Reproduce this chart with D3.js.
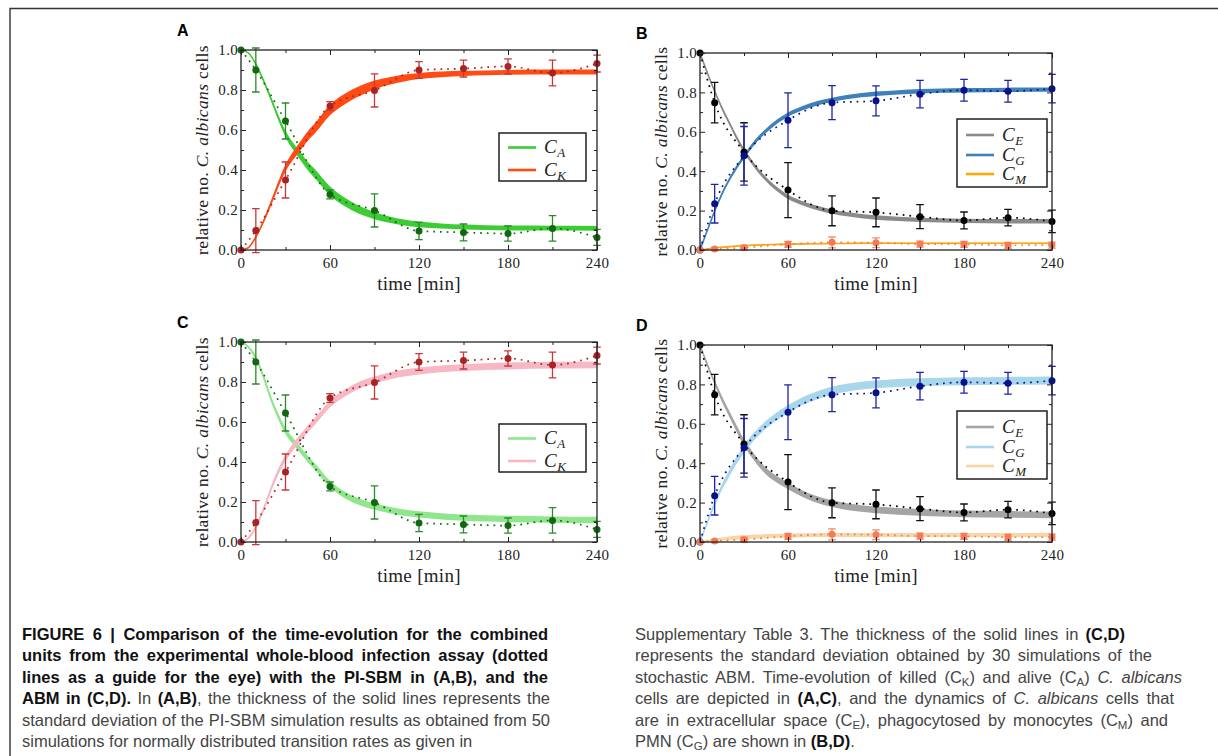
<!DOCTYPE html>
<html>
<head>
<meta charset="utf-8">
<script src="https://cdn.jsdelivr.net/npm/d3@7"></script>
<style>
  body { margin: 0; background: #fff; }
  #fig { position: relative; width: 1218px; height: 756px; overflow: hidden; }
  #fig svg { position: absolute; left: 0; top: 0; }
  .cap { position: absolute; font-family: "Liberation Sans", Arial, sans-serif; font-size: 16.5px;
         color: #444; white-space: nowrap; height: 21px; line-height: 21px; }
  .cap.j { text-align: justify; text-align-last: justify; }
  .cap b { color: #111; }
  .cap sub { font-size: 11.5px; vertical-align: -3px; line-height: 0; }
</style>
</head>
<body>
<div id="fig"></div>
<script>
// experimental whole-blood assay (dotted lines + error bars)
const expTimes = [0, 10, 30, 60, 90, 120, 150, 180, 210, 240];
const expAlive = [1.0, 0.90, 0.645, 0.278, 0.198, 0.095, 0.088, 0.082, 0.108, 0.063];
const expAliveErr = [0, 0.11, 0.09, 0.022, 0.083, 0.043, 0.042, 0.038, 0.064, 0.04];
const expKilled = [0, 0.097, 0.35, 0.72, 0.798, 0.90, 0.907, 0.918, 0.885, 0.932];
const expKilledErr = [0, 0.11, 0.09, 0.022, 0.083, 0.042, 0.042, 0.038, 0.064, 0.042];
const expExtra = [1.0, 0.748, 0.498, 0.304, 0.199, 0.191, 0.169, 0.150, 0.164, 0.145];
const expExtraErr = [0, 0.103, 0.148, 0.14, 0.076, 0.073, 0.061, 0.043, 0.042, 0.057];
const expPmn = [0, 0.235, 0.478, 0.659, 0.748, 0.757, 0.791, 0.811, 0.806, 0.819];
const expPmnErr = [0, 0.098, 0.149, 0.139, 0.086, 0.076, 0.07, 0.055, 0.055, 0.072];
const expMono = [0, 0.005, 0.012, 0.029, 0.039, 0.037, 0.03, 0.029, 0.024, 0.025];
const expMonoErr = [0, 0.008, 0.012, 0.015, 0.028, 0.025, 0.015, 0.015, 0.015, 0.015];

// simulation curves (mean and standard deviation)
const simTimes = [0, 5, 10, 15, 20, 25, 30, 35, 40, 45, 50, 60, 70, 80, 90, 100, 110, 120, 135, 150, 165, 180, 210, 240];

const sbmAlive = [1.0, 0.985, 0.93, 0.85, 0.76, 0.665, 0.58, 0.52, 0.47, 0.42, 0.38, 0.295, 0.24, 0.20, 0.172, 0.152, 0.138, 0.128, 0.12, 0.115, 0.112, 0.11, 0.109, 0.108];
const sbmAliveSd = [0, 0.002, 0.004, 0.007, 0.01, 0.013, 0.016, 0.018, 0.02, 0.021, 0.022, 0.022, 0.021, 0.02, 0.018, 0.016, 0.015, 0.014, 0.013, 0.012, 0.012, 0.012, 0.012, 0.012];
const sbmKilled = [0, 0.012, 0.065, 0.14, 0.23, 0.325, 0.41, 0.47, 0.52, 0.57, 0.61, 0.70, 0.755, 0.795, 0.825, 0.845, 0.86, 0.87, 0.878, 0.883, 0.886, 0.888, 0.89, 0.89];
const sbmKilledSd = [0, 0.002, 0.005, 0.008, 0.012, 0.015, 0.018, 0.02, 0.022, 0.024, 0.025, 0.026, 0.026, 0.025, 0.022, 0.019, 0.017, 0.015, 0.014, 0.013, 0.012, 0.012, 0.012, 0.012];
const sbmExtra = [1.0, 0.90, 0.806, 0.72, 0.645, 0.57, 0.505, 0.45, 0.40, 0.36, 0.324, 0.27, 0.237, 0.213, 0.195, 0.182, 0.172, 0.165, 0.158, 0.153, 0.15, 0.148, 0.146, 0.146];
const sbmExtraSd = [0, 0.004, 0.006, 0.008, 0.009, 0.01, 0.01, 0.011, 0.011, 0.011, 0.011, 0.011, 0.011, 0.011, 0.011, 0.011, 0.011, 0.011, 0.011, 0.011, 0.011, 0.011, 0.011, 0.011];
const sbmPmn = [0, 0.10, 0.198, 0.285, 0.358, 0.42, 0.473, 0.525, 0.569, 0.605, 0.637, 0.687, 0.72, 0.745, 0.762, 0.776, 0.786, 0.793, 0.80, 0.806, 0.809, 0.811, 0.813, 0.814];
const sbmPmnSd = [0, 0.004, 0.006, 0.008, 0.009, 0.01, 0.01, 0.011, 0.011, 0.011, 0.011, 0.011, 0.011, 0.011, 0.011, 0.011, 0.011, 0.011, 0.011, 0.011, 0.011, 0.011, 0.011, 0.011];
const sbmMono = [0, 0.005, 0.01, 0.014, 0.017, 0.02, 0.022, 0.024, 0.025, 0.027, 0.028, 0.03, 0.031, 0.032, 0.033, 0.033, 0.034, 0.034, 0.034, 0.034, 0.034, 0.034, 0.034, 0.034];
const sbmMonoSd = [0, 0.001, 0.002, 0.002, 0.003, 0.003, 0.003, 0.003, 0.003, 0.003, 0.003, 0.003, 0.003, 0.003, 0.003, 0.003, 0.003, 0.003, 0.003, 0.003, 0.003, 0.003, 0.003, 0.003];

const abmAlive = [1.0, 0.975, 0.92, 0.83, 0.72, 0.63, 0.555, 0.505, 0.46, 0.415, 0.375, 0.29, 0.235, 0.20, 0.178, 0.16, 0.147, 0.138, 0.128, 0.122, 0.118, 0.115, 0.112, 0.11];
const abmAliveSd = [0, 0.006, 0.01, 0.012, 0.014, 0.015, 0.016, 0.016, 0.016, 0.016, 0.016, 0.016, 0.016, 0.016, 0.016, 0.016, 0.016, 0.016, 0.016, 0.016, 0.016, 0.016, 0.016, 0.016];
const abmKilled = [0, 0.02, 0.075, 0.16, 0.26, 0.35, 0.42, 0.475, 0.52, 0.565, 0.605, 0.69, 0.745, 0.785, 0.81, 0.83, 0.845, 0.855, 0.866, 0.872, 0.877, 0.88, 0.884, 0.886];
const abmKilledSd = [0, 0.006, 0.01, 0.012, 0.014, 0.015, 0.016, 0.017, 0.017, 0.017, 0.017, 0.017, 0.017, 0.017, 0.017, 0.017, 0.017, 0.017, 0.017, 0.017, 0.017, 0.017, 0.017, 0.017];
const abmExtra = [1.0, 0.90, 0.81, 0.725, 0.65, 0.575, 0.505, 0.45, 0.40, 0.36, 0.33, 0.285, 0.245, 0.215, 0.195, 0.18, 0.17, 0.163, 0.155, 0.15, 0.146, 0.143, 0.14, 0.138];
const abmExtraSd = [0, 0.008, 0.012, 0.014, 0.015, 0.016, 0.016, 0.017, 0.017, 0.017, 0.017, 0.017, 0.017, 0.017, 0.017, 0.017, 0.017, 0.017, 0.017, 0.017, 0.017, 0.017, 0.017, 0.017];
const abmPmn = [0, 0.10, 0.195, 0.28, 0.35, 0.415, 0.47, 0.52, 0.56, 0.595, 0.625, 0.675, 0.715, 0.745, 0.768, 0.783, 0.794, 0.80, 0.807, 0.811, 0.814, 0.816, 0.818, 0.82];
const abmPmnSd = [0, 0.008, 0.012, 0.015, 0.017, 0.018, 0.019, 0.02, 0.02, 0.02, 0.02, 0.02, 0.02, 0.02, 0.02, 0.02, 0.02, 0.02, 0.02, 0.02, 0.02, 0.02, 0.02, 0.02];
const abmMono = [0, 0.006, 0.011, 0.015, 0.019, 0.022, 0.025, 0.027, 0.028, 0.03, 0.031, 0.033, 0.034, 0.035, 0.036, 0.036, 0.036, 0.036, 0.036, 0.036, 0.036, 0.036, 0.036, 0.036];
const abmMonoSd = [0, 0.004, 0.006, 0.008, 0.009, 0.01, 0.01, 0.01, 0.01, 0.01, 0.01, 0.01, 0.01, 0.01, 0.01, 0.01, 0.01, 0.01, 0.01, 0.01, 0.01, 0.01, 0.01, 0.01];

const xTicks = [0, 30, 60, 90, 120, 150, 180, 210, 240];
const yTicks = [0, 0.1, 0.2, 0.3, 0.4, 0.5, 0.6, 0.7, 0.8, 0.9, 1.0];

const serif = '"Liberation Serif", "DejaVu Serif", serif';

const panels = [
  { name: "A", x0: 241, x1: 597, y0: 50, y1: 250, legend: { x: 499, y: 133, w: 87 },
    bands: [
      { key: "A", mean: sbmAlive, sd: sbmAliveSd, color: "#3dcc35" },
      { key: "K", mean: sbmKilled, sd: sbmKilledSd, color: "#ff4b14" }],
    exp: [
      { v: expAlive, e: expAliveErr, dot: "#10690f", bar: "#2b8a2b" },
      { v: expKilled, e: expKilledErr, dot: "#a82424", bar: "#c83838" }] },
  { name: "B", x0: 700, x1: 1052, y0: 53, y1: 250, legend: { x: 957, y: 119, w: 90 },
    bands: [
      { key: "E", mean: sbmExtra, sd: sbmExtraSd, color: "#8a8a8a" },
      { key: "G", mean: sbmPmn, sd: sbmPmnSd, color: "#3f80b8" },
      { key: "M", mean: sbmMono, sd: sbmMonoSd, color: "#ffa60a" }],
    exp: [
      { v: expExtra, e: expExtraErr, dot: "#000000", bar: "#111111" },
      { v: expPmn, e: expPmnErr, dot: "#08108a", bar: "#1a22a8" },
      { v: expMono, e: expMonoErr, dot: "#f57a55", bar: "#f08a68" }] },
  { name: "C", x0: 241, x1: 597, y0: 342, y1: 542, legend: { x: 499, y: 424, w: 87 },
    bands: [
      { key: "A", mean: abmAlive, sd: abmAliveSd, color: "#90e68c" },
      { key: "K", mean: abmKilled, sd: abmKilledSd, color: "#f6b8c4" }],
    exp: [
      { v: expAlive, e: expAliveErr, dot: "#10690f", bar: "#2b8a2b" },
      { v: expKilled, e: expKilledErr, dot: "#a82424", bar: "#c83838" }] },
  { name: "D", x0: 700, x1: 1052, y0: 345, y1: 542, legend: { x: 957, y: 411, w: 90 },
    bands: [
      { key: "E", mean: abmExtra, sd: abmExtraSd, color: "#a5a5a5" },
      { key: "G", mean: abmPmn, sd: abmPmnSd, color: "#a8d6ea" },
      { key: "M", mean: abmMono, sd: abmMonoSd, color: "#f8d5a4" }],
    exp: [
      { v: expExtra, e: expExtraErr, dot: "#000000", bar: "#111111" },
      { v: expPmn, e: expPmnErr, dot: "#08108a", bar: "#1a22a8" },
      { v: expMono, e: expMonoErr, dot: "#f57a55", bar: "#f08a68" }] }
];

const fig = d3.select("#fig");
const svg = fig.append("svg").attr("width", 1218).attr("height", 756);

// outer frame of the figure box
svg.append("path")
  .attr("d", "M10,756 V8.5 H1218")
  .attr("fill", "none")
  .attr("stroke", "#333")
  .attr("stroke-width", 1.4);

panels.forEach(p => drawPanel(svg.append("g"), p));

function drawPanel(g, p) {
  const x = d3.scaleLinear().domain([0, 240]).range([p.x0, p.x1]);
  const y = d3.scaleLinear().domain([0, 1]).range([p.y1, p.y0]);
  const idx = d3.range(simTimes.length);

  g.append("text")
    .attr("x", p.x0 - 64)
    .attr("y", p.y0 - 14)
    .attr("font-family", '"Liberation Sans", Arial, sans-serif')
    .attr("font-weight", "bold")
    .attr("font-size", 16)
    .text(p.name);

  // simulation bands
  p.bands.forEach(b => {
    const area = d3.area()
      .x(i => x(simTimes[i]))
      .y0(i => y(b.mean[i] - b.sd[i]))
      .y1(i => y(b.mean[i] + b.sd[i]))
      .curve(d3.curveMonotoneX);
    const line = d3.line()
      .x(i => x(simTimes[i]))
      .y(i => y(b.mean[i]))
      .curve(d3.curveMonotoneX);
    g.append("path").attr("d", area(idx)).attr("fill", b.color);
    g.append("path").attr("d", line(idx)).attr("fill", "none")
      .attr("stroke", b.color).attr("stroke-width", 1.6);
  });

  // experimental data
  const eIdx = d3.range(expTimes.length);
  p.exp.forEach(s => {
    const line = d3.line().x(i => x(expTimes[i])).y(i => y(s.v[i])).curve(d3.curveMonotoneX);
    g.append("path").attr("d", line(eIdx))
      .attr("fill", "none")
      .attr("stroke", s.dot)
      .attr("stroke-width", 1.7)
      .attr("stroke-dasharray", "1.7,5");
  });
  p.exp.forEach(s => {
    const bars = g.append("g").attr("stroke", s.bar).attr("stroke-width", 1.3).attr("fill", "none");
    eIdx.filter(i => s.e[i] > 0).forEach(i => {
      const cx = x(expTimes[i]);
      const top = y(s.v[i] + s.e[i]), bot = y(s.v[i] - s.e[i]);
      bars.append("path").attr("d", `M${cx},${top}V${bot}M${cx - 3.8},${top}H${cx + 3.8}M${cx - 3.8},${bot}H${cx + 3.8}`);
    });
  });
  p.exp.forEach(s => {
    g.append("g").selectAll("circle")
      .data(eIdx)
      .join("circle")
      .attr("cx", i => x(expTimes[i]))
      .attr("cy", i => y(s.v[i]))
      .attr("r", 3.5)
      .attr("fill", s.dot);
  });

  drawAxes(g, x, y, p);
  drawLegend(g, p);

  // axis titles
  const yl = g.append("text")
    .attr("transform", `translate(${p.x0 - 33},${(p.y0 + p.y1) / 2}) rotate(-90)`)
    .attr("text-anchor", "middle")
    .attr("font-family", serif)
    .attr("font-size", 17.5)
    .attr("letter-spacing", 0.35)
    .attr("fill", "#222");
  yl.append("tspan").text("relative no. ");
  yl.append("tspan").attr("font-style", "italic").text("C. albicans");
  yl.append("tspan").text(" cells");

  g.append("text")
    .attr("x", (p.x0 + p.x1) / 2)
    .attr("y", p.y1 + 40)
    .attr("text-anchor", "middle")
    .attr("font-family", serif)
    .attr("font-size", 19)
    .attr("letter-spacing", 0.3)
    .attr("fill", "#222")
    .text("time [min]");
}

function drawAxes(g, x, y, p) {
  const fmtX = d => d % 60 === 0 ? d : "";
  const fmtY = d => Math.round(d * 10) % 2 === 0 ? d.toFixed(1) : "";
  const minorX = d => d % 60 !== 0;
  const minorY = d => Math.round(d * 10) % 2 !== 0;

  const axes = [
    { ax: d3.axisBottom(x).tickValues(xTicks).tickFormat(fmtX).tickPadding(7), t: `translate(0,${p.y1})`, minor: minorX, attr: "y2" },
    { ax: d3.axisTop(x).tickValues(xTicks).tickFormat(""), t: `translate(0,${p.y0})`, minor: minorX, attr: "y2" },
    { ax: d3.axisLeft(y).tickValues(yTicks).tickFormat(fmtY).tickPadding(3), t: `translate(${p.x0},0)`, minor: minorY, attr: "x2" },
    { ax: d3.axisRight(y).tickValues(yTicks).tickFormat(""), t: `translate(${p.x1},0)`, minor: minorY, attr: "x2" }
  ];
  axes.forEach(a => {
    const ag = g.append("g")
      .attr("transform", a.t)
      .call(a.ax.tickSizeInner(-5).tickSizeOuter(0));
    ag.select(".domain").remove();
    ag.attr("font-family", serif).attr("font-size", 15);
    ag.selectAll(".tick text").attr("fill", "#222").attr("letter-spacing", 0.3);
    ag.selectAll(".tick line")
      .attr("stroke", "#222")
      .attr("stroke-width", 1)
      .attr(a.attr, function(d) { return +this.getAttribute(a.attr) * (a.minor(d) ? 0.6 : 1); });
  });

  g.append("rect")
    .attr("x", p.x0).attr("y", p.y0)
    .attr("width", p.x1 - p.x0).attr("height", p.y1 - p.y0)
    .attr("fill", "none")
    .attr("stroke", "#222")
    .attr("stroke-width", 1.3);
}

function drawLegend(g, p) {
  const n = p.bands.length;
  const h = n === 2 ? 48 : 68;
  const rows = n === 2 ? [14.5, 37] : [16, 36, 55];
  const L = p.legend;
  const lg = g.append("g").attr("transform", `translate(${L.x},${L.y})`);
  lg.append("rect")
    .attr("width", L.w).attr("height", h)
    .attr("fill", "#fff").attr("stroke", "#111").attr("stroke-width", 1.4);
  p.bands.forEach((b, i) => {
    lg.append("line")
      .attr("x1", 9).attr("x2", 37)
      .attr("y1", rows[i]).attr("y2", rows[i])
      .attr("stroke", b.color).attr("stroke-width", 2.6);
    const t = lg.append("text")
      .attr("x", 45).attr("y", rows[i] + 5.5)
      .attr("font-family", serif)
      .attr("font-style", "italic")
      .attr("font-size", 19)
      .attr("fill", "#222");
    t.append("tspan").text("C");
    t.append("tspan").attr("font-size", 13).attr("dy", 4).attr("dx", 0.5).text(b.key);
  });
}

// caption: each line with the right edge it reaches in the figure
const capLeft = [
  { r: 548, html: "<b>FIGURE 6 | Comparison of the time-evolution for the combined</b>" },
  { r: 548, html: "<b>units from the experimental whole-blood infection assay (dotted</b>" },
  { r: 548, html: "<b>lines as a guide for the eye) with the PI-SBM in (A,B), and the</b>" },
  { r: 550, html: "<b>ABM in (C,D).</b> In <b>(A,B)</b>, the thickness of the solid lines represents the" },
  { r: 550, html: "standard deviation of the PI-SBM simulation results as obtained from 50" },
  { r: 0, html: "simulations for normally distributed transition rates as given in" }
];
const capRight = [
  { r: 1125, html: "Supplementary Table 3. The thickness of the solid lines in <b>(C,D)</b>" },
  { r: 1152, html: "represents the standard deviation obtained by 30 simulations of the" },
  { r: 1182, html: "stochastic ABM. Time-evolution of killed (C<sub>K</sub>) and alive (C<sub>A</sub>) <i>C. albicans</i>" },
  { r: 1174, html: "cells are depicted in <b>(A,C)</b>, and the dynamics of <i>C. albicans</i> cells that" },
  { r: 1168, html: "are in extracellular space (C<sub>E</sub>), phagocytosed by monocytes (C<sub>M</sub>) and" },
  { r: 0, html: "PMN (C<sub>G</sub>) are shown in <b>(B,D)</b>." }
];
const capRows = [634, 655.5, 677, 698.5, 720, 741.5];

function drawCaption(lines, left) {
  lines.forEach((l, i) => {
    const d = fig.append("div")
      .attr("class", l.r ? "cap j" : "cap")
      .style("left", left + "px")
      .style("top", (capRows[i] - 10.5) + "px")
      .html(l.html);
    if (l.r) d.style("width", (l.r - left) + "px");
  });
}
drawCaption(capLeft, 22);
drawCaption(capRight, 635);
</script>
</body>
</html>
